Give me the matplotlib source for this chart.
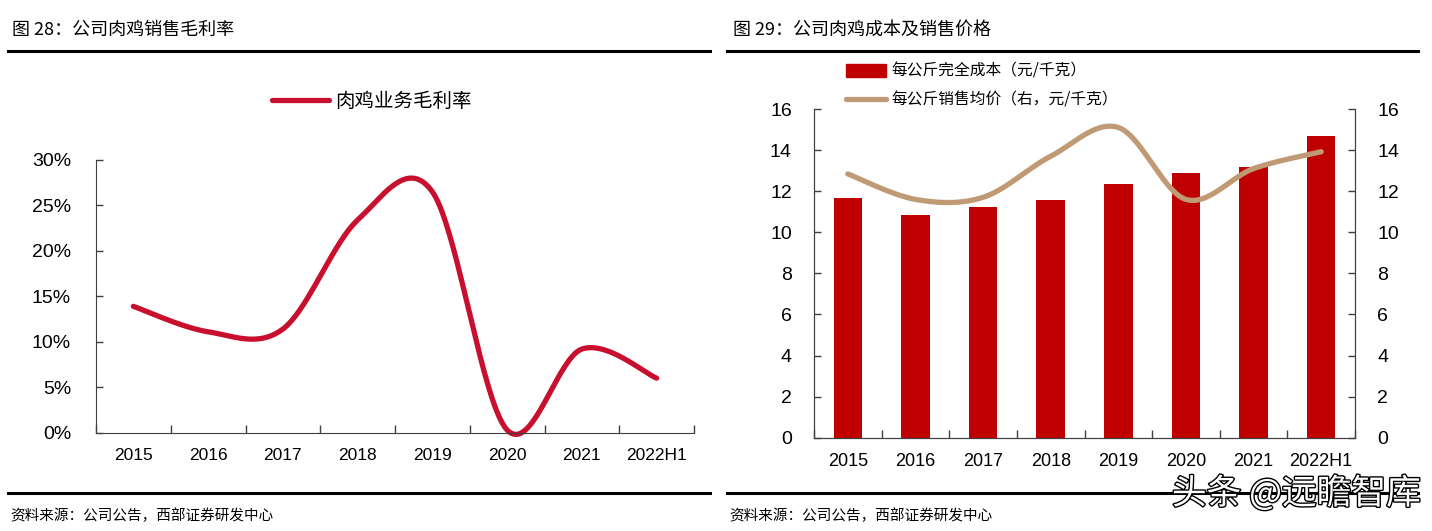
import numpy as np
import matplotlib
matplotlib.use("Agg")
import matplotlib.pyplot as plt
import matplotlib.patheffects as pe
from matplotlib.lines import Line2D
from matplotlib.patches import Patch

plt.rcParams['font.family'] = ['Liberation Sans', 'Noto Sans CJK SC', 'DejaVu Sans']
CJK = ['Noto Sans CJK SC', 'DejaVu Sans']

years = ['2015', '2016', '2017', '2018', '2019', '2020', '2021', '2022H1']
margin = [13.9, 11.1, 11.4, 23.4, 26.5, 0.3, 9.2, 6.0]          # 肉鸡业务毛利率 %
cost = [11.65, 10.86, 11.23, 11.56, 12.34, 12.9, 13.16, 14.69]   # 每公斤完全成本
price = [12.84, 11.6, 11.7, 13.7, 15.1, 11.6, 13.1, 13.92]       # 每公斤销售均价


def smooth(x, y, n=40):
    # Excel-style smoothed line (Catmull-Rom as cubic Bezier)
    p = np.column_stack([x, y]).astype(float)
    pts = np.vstack([p[0], p, p[-1]])
    out = []
    t = np.linspace(0, 1, n)[:, None]
    for i in range(1, len(pts) - 2):
        p0, p1, p2, p3 = pts[i - 1], pts[i], pts[i + 1], pts[i + 2]
        c1 = p1 + (p2 - p0) / 6
        c2 = p2 - (p3 - p1) / 6
        seg = ((1 - t) ** 3) * p1 + 3 * ((1 - t) ** 2) * t * c1 + 3 * (1 - t) * t ** 2 * c2 + t ** 3 * p2
        out.append(seg if i == 1 else seg[1:])
    out = np.vstack(out)
    return out[:, 0], out[:, 1]


def style_axis(ax, fs, yfs):
    ax.set_xlim(-0.5, len(years) - 0.5)
    ax.set_xticks(np.arange(-0.5, len(years)), [''] * (len(years) + 1))
    ax.set_xticks(np.arange(len(years)), years, minor=True)
    ax.tick_params(axis='x', which='major', direction='in', length=6, width=1, color='#404040')
    ax.tick_params(axis='x', which='minor', length=0, pad=11, labelsize=fs)
    ax.tick_params(axis='y', direction='in', length=5, width=1, color='#404040', labelsize=yfs, pad=16)
    for s in ax.spines.values():
        s.set_color('#404040')


fig = plt.figure(figsize=(14.32, 5.31), dpi=100)

# header / footer rules and texts
for x0, x1 in [(8, 710), (727, 1418)]:
    fig.add_artist(Line2D([x0 / 1432, x1 / 1432], [1 - 50.5 / 531] * 2, color='black', lw=2.2))
    fig.add_artist(Line2D([x0 / 1432, x1 / 1432], [1 - 493 / 531] * 2, color='black', lw=2.2))
fig.text(12 / 1432, 1 - 30 / 531, '图 28：公司肉鸡销售毛利率', family=CJK, fontsize=13, va='center')
fig.text(733 / 1432, 1 - 30 / 531, '图 29：公司肉鸡成本及销售价格', family=CJK, fontsize=13, va='center')
for x0 in (10, 729):
    fig.text(x0 / 1432, 1 - 516 / 531, '资料来源：公司公告，西部证券研发中心', family=CJK, fontsize=10.5, va='center')
fig.text(1421 / 1432, 1 - 494 / 531, '头条 @远瞻智库', family=CJK, fontsize=25, color='white',
         ha='right', va='center', path_effects=[pe.withStroke(linewidth=2, foreground='black')])

# left: gross margin line
ax1 = fig.add_axes([96 / 1432, 1 - 432.7 / 531, (694 - 96) / 1432, (432.7 - 160) / 531])
xs, ys = smooth(np.arange(len(years)), margin)
ax1.plot(xs, ys, color='#C8102E', lw=3.8, solid_capstyle='round', clip_on=False,
         label='肉鸡业务毛利率')
ax1.set_ylim(0, 30)
ax1.set_yticks(range(0, 31, 5), [f'{v}%' for v in range(0, 31, 5)])
style_axis(ax1, 12.5, 14)
ax1.tick_params(axis='y', pad=18)
ax1.spines['top'].set_visible(False)
ax1.spines['right'].set_visible(False)
ax1.legend(loc='center', bbox_to_anchor=(0.462, 1.216), frameon=False, handlelength=2.9,
           prop={'family': CJK, 'size': 14}, handletextpad=0.35)

# right: cost bars + price line
ax2 = fig.add_axes([814 / 1432, 1 - 437.7 / 531, (1355 - 814) / 1432, (437.7 - 109) / 531])
ax2.bar(np.arange(len(years)), cost, width=0.42, color='#C00000')
ax2.set_ylim(0, 16)
ax2.set_yticks(range(0, 17, 2))
style_axis(ax2, 13, 14)
ax2.spines['top'].set_visible(False)
ax3 = ax2.twinx()
xs, ys = smooth(np.arange(len(years)), price)
ax3.plot(xs, ys, color='#BF9A74', lw=3.8, solid_capstyle='round')
ax3.set_ylim(0, 16)
ax3.set_yticks(range(0, 17, 2))
ax3.tick_params(axis='y', direction='in', length=5, width=1, color='#404040', labelsize=14, pad=16)
for s in ax3.spines.values():
    s.set_color('#404040')
ax3.spines['top'].set_visible(False)
handles = [Patch(color='#C00000'), Line2D([], [], color='#BF9A74', lw=3.8, solid_capstyle='round')]
ax2.legend(handles, ['每公斤完全成本（元/千克）', '每公斤销售均价（右，元/千克）'],
           loc='upper left', bbox_to_anchor=(0.044, 1.164), frameon=False, handlelength=2.6,
           handleheight=0.9, prop={'family': CJK, 'size': 11.3}, handletextpad=0.3, labelspacing=0.75,
           borderpad=0)

fig.savefig('out.png', dpi=100)
